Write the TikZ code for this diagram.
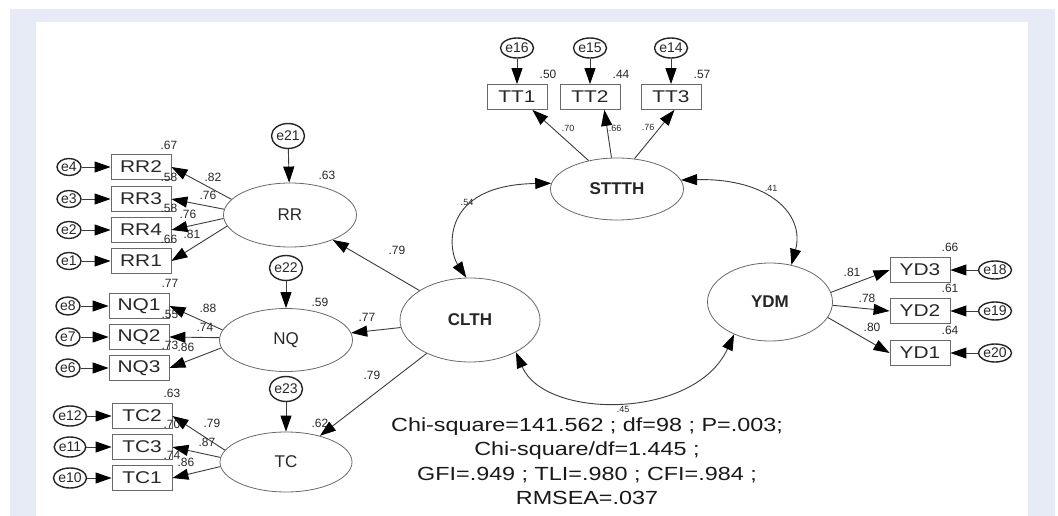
\documentclass[tikz,border=0pt]{standalone}
\usepackage{fontspec}
\setmainfont{Liberation Sans}
\newfontfamily\widesans[FakeStretch=1.23]{Liberation Sans}
\usetikzlibrary{arrows.meta,shapes.geometric}
\definecolor{framebg}{RGB}{230,235,246}
\definecolor{semline}{RGB}{60,60,60}
\definecolor{semedge}{RGB}{105,105,105}
\definecolor{semtext}{RGB}{40,40,40}
\tikzset{
  semobs/.style={draw=semedge,line width=0.8pt,minimum width=60pt,minimum height=25pt,inner sep=0pt,font=\widesans\fontsize{17}{17}\selectfont,text=semtext},
  semlat/.style={ellipse,draw=semedge,line width=0.8pt,inner sep=0pt,font=\bfseries\fontsize{17}{17}\selectfont,text=black!85},
  semlatR/.style={ellipse,draw=semedge,line width=0.8pt,inner sep=0pt,font=\fontsize{17}{17}\selectfont,text=semtext},
  semerr/.style={ellipse,draw=black!85,line width=1.4pt,inner sep=0pt,font=\fontsize{14}{14}\selectfont,text=semtext},
  semnum/.style={font=\fontsize{12}{12}\selectfont,text=semtext,inner sep=0pt},
  semnumS/.style={font=\fontsize{9}{9}\selectfont,text=semtext,inner sep=0pt},
  semfit/.style={font=\widesans\fontsize{19}{24.5}\selectfont,text=black!90,align=center,inner sep=0pt},
}

\begin{document}
\begin{tikzpicture}[x=1pt,y=-1pt,
  semtip/.tip={Triangle[length=16pt,width=11pt,color=black]},
  semarr/.style={semline,line width=0.9pt,-semtip},
  semcov/.style={semline,line width=0.9pt,semtip-semtip},
]
\useasboundingbox (0,0) rectangle (1058,516);
% page frame
\fill[framebg] (10,9) rectangle (1055,516);
\fill[white] (36,22) rectangle (1028,516);
% latent factors
\node[semlat,minimum width=133pt,minimum height=62pt] (STTTH) at (617,189) {STTTH};
\node[semlat,minimum width=140pt,minimum height=84pt] (CLTH) at (470,320) {CLTH};
\node[semlat,minimum width=125pt,minimum height=78pt] (YDM) at (770,302) {YDM};
\node[semlatR,minimum width=133pt,minimum height=64pt] (RR) at (290,215) {RR};
\node[semlatR,minimum width=133pt,minimum height=63pt] (NQ) at (286,340) {NQ};
\node[semlatR,minimum width=132pt,minimum height=60pt] (TC) at (286,462) {TC};
% disturbances of the second-order paths
\foreach \e/\tg/\x/\y/\rv/\rx/\ry in {e21/RR/288/136/.63/327/175,e22/NQ/286/268/.59/320/302,e23/TC/286/389/.62/320/423}{
  \node[semerr,minimum size=25pt] (\e) at (\x,\y) {\e};
  \node[semnum] (r\tg) at (\rx,\ry) {\rv};
  \draw[semarr] (\e) -- (\tg);}
% CLTH -> first-order factors
\node[semnum] (lRR) at (397,250) {.79};
\node[semnum] (lNQ) at (367,317) {.77};
\node[semnum] (lTC) at (372,375) {.79};
\draw[semarr] (CLTH) -- (RR);
\draw[semarr] (CLTH) -- (NQ);
\draw[semarr] (CLTH) -- (TC);
% RR indicators
\foreach \n/\e/\y/\a/\rv/\ld/\lx/\ly in {RR2/e4/167/165/.67/.82/213/177,RR3/e3/199/175/.58/.76/208/195,RR4/e2/230/183/.58/.76/188/214,RR1/e1/261/190/.66/.81/192/234}{
  \node[semobs] (\n) at (141,\y) {\n};
  \node[semerr,minimum width=24pt,minimum height=17pt] (\e) at (69,\y) {\e};
  \node[semnum] (r\n) at (169,{\y-22}) {\rv};
  \node[semnum] (l\n) at (\lx,\ly) {\ld};
  \draw[semarr] (\e) -- (\n);
  \draw[semarr] (RR.\a) -- (\n.east);}
% NQ indicators
\foreach \n/\e/\y/\a/\rv/\ld/\lx/\ly in {NQ1/e8/306/171/.77/.88/208/308,NQ2/e7/337/178/.55/.74/205/327,NQ3/e6/368/187/.73/.86/186/347}{
  \node[semobs] (\n) at (139,\y) {\n};
  \node[semerr,minimum width=24pt,minimum height=18pt] (\e) at (68,\y) {\e};
  \node[semnum] (r\n) at (170,{\y-23}) {\rv};
  \node[semnum] (l\n) at (\lx,\ly) {\ld};
  \draw[semarr] (\e) -- (\n);
  \draw[semarr] (NQ.\a) -- (\n.east);}
% TC indicators
\foreach \n/\e/\y/\a/\rv/\ld/\lx/\ly in {TC2/e12/416/169/.63/.79/212/423,TC3/e11/447/176/.70/.87/207/442,TC1/e10/478/184/.74/.86/186/462}{
  \node[semobs] (\n) at (142,\y) {\n};
  \node[semerr,minimum width=26pt,minimum height=20pt] (\e) at (70,\y) {\e};
  \node[semnum] (r\n) at (172,{\y-23}) {\rv};
  \node[semnum] (l\n) at (\lx,\ly) {\ld};
  \draw[semarr] (\e) -- (\n);
  \draw[semarr] (TC.\a) -- (\n.east);}
% STTTH indicators (top row)
\foreach \n/\e/\x/\b/\a/\rv/\ld/\lx/\ly in {TT1/e16/517/-40/135/.50/.70/568/128,TT2/e15/590/-42/100/.44/.66/615/128,TT3/e14/671/-75/60/.57/.76/648/127}{
  \node[semobs] (\n) at (\x,97) {\n};
  \node[semerr,minimum width=27pt,minimum height=20pt] (\e) at (\x,48) {\e};
  \node[semnum] (r\n) at ({\x+31},74) {\rv};
  \node[semnumS] (l\n) at (\lx,\ly) {\ld};
  \draw[semarr] (\e) -- (\n);
  \draw[semarr] (STTTH.\a) -- (\n.\b);}
% YDM indicators (right column)
\foreach \n/\e/\y/\a/\rv/\ld/\lx/\ly in {YD3/e18/270/9/.66/.81/852/272,YD2/e19/311/-3/.61/.78/867/298,YD1/e20/353/-15/.64/.80/872/327}{
  \node[semobs] (\n) at (920,\y) {\n};
  \node[semerr,minimum width=27pt,minimum height=18pt] (\e) at (995,\y) {\e};
  \node[semnum] (r\n) at (950,{\y-23}) {\rv};
  \node[semnum] (l\n) at (\lx,\ly) {\ld};
  \draw[semarr] (\e) -- (\n);
  \draw[semarr] (YDM.\a) -- (\n.west);}
% correlations between the second-order blocks
\draw[semcov] (STTTH.175) .. controls (440,185) and (448,250) .. (CLTH.95);
\draw[semcov] (STTTH.8) .. controls (770,178) and (805,215) .. (YDM.60);
\draw[semcov] (CLTH.-35) .. controls (545,420) and (695,420) .. (YDM.222);
\node[semnumS] (cST) at (467,202) {.54};
\node[semnumS] (cSY) at (771,188) {.41};
\node[semnumS] (cCY) at (623,409) {.45};
% model fit
\node[semfit] (gof) at (587,461) {Chi-square=141.562 ; df=98 ; P=.003;\\Chi-square/df=1.445 ;\\GFI=.949 ; TLI=.980 ; CFI=.984 ;\\RMSEA=.037};
\end{tikzpicture}
\end{document}
